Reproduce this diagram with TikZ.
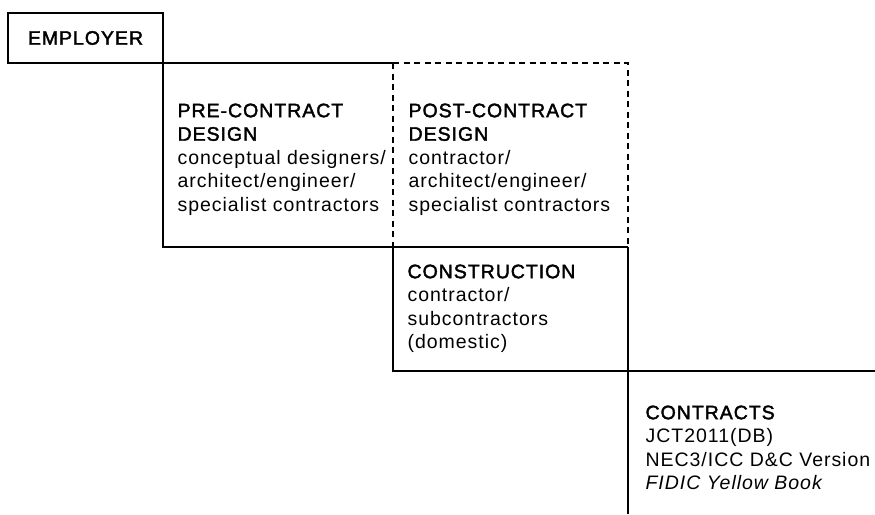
\documentclass[tikz,border=0pt]{standalone}
\usepackage{fontspec}
\setmainfont{Liberation Sans}[LetterSpace=5]
\newfontfamily\medfont{Liberation Sans}[FakeBold=2,LetterSpace=5]
\newcommand{\hd}[1]{{\medfont #1}}
\begin{document}
\begin{tikzpicture}[x=1pt,y=-1pt,line width=1.2pt,color=black,
	info/.style={anchor=north west,inner sep=0pt,align=left,font=\fontsize{19.5}{23.5}\selectfont},
	dsh/.style={dash pattern=on 6pt off 4.5pt,line width=1.1pt}]
		\useasboundingbox (0,0) rectangle (875,514);
		% stair corners
		\coordinate (a) at (163,63);
		\coordinate (b) at (393,63);
		\coordinate (c) at (628,63);
		\coordinate (d) at (163,247);
		\coordinate (e) at (393,247);
		\coordinate (f) at (628,247);
		\coordinate (g) at (393,371);
		\coordinate (h) at (628,371);
		\coordinate (i) at (875,371);
		\coordinate (j) at (628,514);
		\node[draw,minimum width=155pt,minimum height=50pt,inner sep=0pt,font=\fontsize{19.5}{23.5}\selectfont] (employer) at (85.5,38) {\hd{EMPLOYER}};
		\draw (a) -- (b);
		\draw[dsh] (b) -- (c) -- (f);
		\draw[dsh] (b) -- (e);
		\draw (a) -- (d) -- (f);
		\draw (e) -- (g) -- (i);
		\draw (f) -- (j);
		\node[info] (pre) at (177,103) {\hd{PRE-CONTRACT}\\\hd{DESIGN}\\conceptual designers/\\architect/engineer/\\specialist contractors};
		\node[info] (post) at (408,103) {\hd{POST-CONTRACT}\\\hd{DESIGN}\\contractor/\\architect/engineer/\\specialist contractors};
		\node[info] (constr) at (407,264) {\hd{CONSTRUCTION}\\contractor/\\subcontractors\\(domestic)};
		\node[info] (contr) at (645,405) {\hd{CONTRACTS}\\JCT2011(DB)\\NEC3/ICC D\&C Version\\\textit{FIDIC Yellow Book}};
		\end{tikzpicture}
\end{document}
